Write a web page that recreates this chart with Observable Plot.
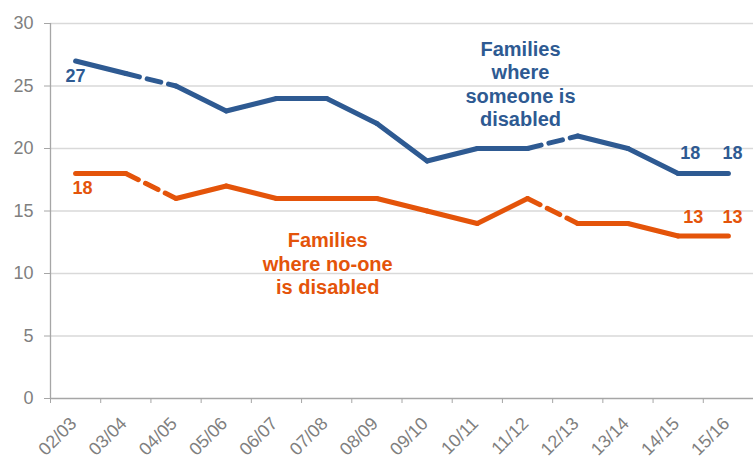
<!DOCTYPE html>
<html>
<head>
<meta charset="utf-8">
<script src="https://cdn.jsdelivr.net/npm/d3@7"></script>
<script src="https://cdn.jsdelivr.net/npm/@observablehq/plot@0.6"></script>
<style>
  html, body { margin: 0; padding: 0; background: #fff; }
  #chart { width: 753px; height: 459px; }
</style>
</head>
<body>
<div id="chart"></div>
<script>
// ---- Data ----
const years = ["02/03","03/04","04/05","05/06","06/07","07/08","08/09","09/10","10/11","11/12","12/13","13/14","14/15","15/16"];
const someoneDisabled = [27,26,25,23,24,24,22,19,20,20,21,20,18,18];
const noOneDisabled   = [18,18,16,17,16,16,16,15,14,16,14,14,13,13];
// segments starting at these years are drawn dashed (break in series)
const dashedStarts = ["03/04","11/12"];
const yTicks = [0,5,10,15,20,25,30];

const BLUE = "#2e5a92";
const ORANGE = "#e4540a";

function runs(values, dashed) {
  const rows = [];
  let run = 0;
  for (let i = 0; i < values.length - 1; i++) {
    const isDashed = dashedStarts.includes(years[i]);
    if (isDashed === dashed) {
      rows.push({x: i + 0.5, y: values[i], z: run});
      rows.push({x: i + 1.5, y: values[i + 1], z: run});
    }
    run++;
  }
  return rows;
}

const font = "'Liberation Sans', Arial, Helvetica, sans-serif";
const last = years.length - 1;

const chart = Plot.plot({
  width: 753,
  height: 459,
  marginLeft: 50,
  marginRight: 0,
  marginTop: 23,
  marginBottom: 61,
  style: {fontFamily: font, background: "#fff"},
  x: {type: "linear", domain: [0, years.length]},
  y: {domain: [0, 30]},
  marks: [
    Plot.ruleY(yTicks.filter(d => d > 0), {stroke: "#d9d9d9", strokeWidth: 1.3}),
    Plot.ruleX([0], {stroke: "#a6a6a6", strokeWidth: 1.3}),
    Plot.ruleY([0], {stroke: "#a6a6a6", strokeWidth: 1.3}),
    Plot.axisY({ticks: yTicks, tickSize: 6, tickFormat: () => "", color: "#a6a6a6", label: null}),
    Plot.axisY({ticks: yTicks, tickSize: 0, tickPadding: 17, fontSize: 18, color: "#7f7f7f", label: null}),
    Plot.axisX({ticks: d3.range(years.length + 1), tickSize: 5, tickFormat: () => "", color: "#a6a6a6", label: null}),
    Plot.axisX({ticks: d3.range(years.length).map(i => i + 0.5), tickFormat: d => years[Math.floor(d)],
      tickSize: 0, tickPadding: 22, tickRotate: -45, fontSize: 18, color: "#7f7f7f", label: null, dx: -2}),

    // lines
    Plot.line(runs(noOneDisabled, false), {x: "x", y: "y", z: "z", stroke: ORANGE, strokeWidth: 5, strokeLinejoin: "round", strokeLinecap: "round"}),
    Plot.line(runs(noOneDisabled, true), {x: "x", y: "y", z: "z", stroke: ORANGE, strokeWidth: 5, strokeDasharray: "14,8"}),
    Plot.line(runs(someoneDisabled, false), {x: "x", y: "y", z: "z", stroke: BLUE, strokeWidth: 5, strokeLinejoin: "round", strokeLinecap: "round"}),
    Plot.line(runs(someoneDisabled, true), {x: "x", y: "y", z: "z", stroke: BLUE, strokeWidth: 5, strokeDasharray: "14,8"}),

    // data labels
    Plot.text([0], {x: i => i + 0.5, y: i => someoneDisabled[i], text: i => String(someoneDisabled[i]), dy: 15, fill: BLUE, fontSize: 18, fontWeight: "bold"}),
    Plot.text([0], {x: i => i + 0.5, y: i => noOneDisabled[i], text: i => String(noOneDisabled[i]), dy: 15, dx: 7, fill: ORANGE, fontSize: 18, fontWeight: "bold"}),
    Plot.text([last - 1], {x: i => i + 0.5, y: i => someoneDisabled[i], text: i => String(someoneDisabled[i]), dy: -20, dx: 12, fill: BLUE, fontSize: 18, fontWeight: "bold"}),
    Plot.text([last], {x: i => i + 0.5, y: i => someoneDisabled[i], text: i => String(someoneDisabled[i]), dy: -20, dx: 4, fill: BLUE, fontSize: 18, fontWeight: "bold"}),
    Plot.text([last - 1], {x: i => i + 0.5, y: i => noOneDisabled[i], text: i => String(noOneDisabled[i]), dy: -19, dx: 15, fill: ORANGE, fontSize: 18, fontWeight: "bold"}),
    Plot.text([last], {x: i => i + 0.5, y: i => noOneDisabled[i], text: i => String(noOneDisabled[i]), dy: -19, dx: 4, fill: ORANGE, fontSize: 18, fontWeight: "bold"}),

    // series annotations
    Plot.text(["Families\nwhere\nsomeone is\ndisabled"], {x: 9.36, y: 25.2, text: d => d, fill: BLUE, fontSize: 20, fontWeight: "bold", lineHeight: 1.18, textAnchor: "middle"}),
    Plot.text(["Families\nwhere no-one\nis disabled"], {x: 5.52, y: 10.82, text: d => d, fill: ORANGE, fontSize: 20, fontWeight: "bold", lineHeight: 1.18, textAnchor: "middle"})
  ]
});
document.getElementById("chart").appendChild(chart);
</script>
</body>
</html>
